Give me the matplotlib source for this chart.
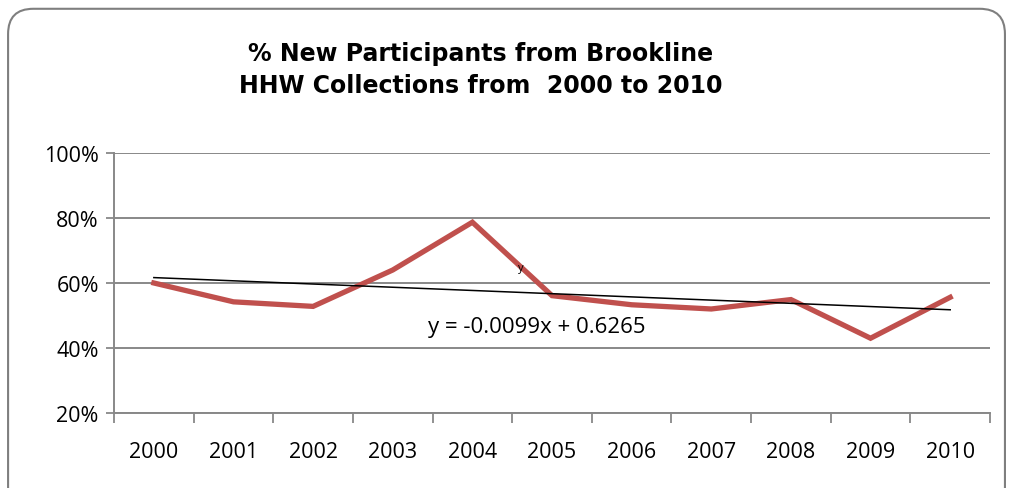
import matplotlib.pyplot as plt
from matplotlib.patches import FancyBboxPatch
import numpy as np

years = ['2000', '2001', '2002', '2003', '2004', '2005', '2006', '2007', '2008', '2009', '2010']
pct_new = [60.0, 54.2, 52.8, 64.0, 78.7, 56.1, 53.3, 52.0, 54.9, 43.0, 55.6]
# trendline as shown in the chart: y = -0.0099x + 0.6265
slope = -0.0099
intercept = 0.6265
y_ticks = [20, 40, 60, 80, 100]

fig = plt.figure(figsize=(10.1, 4.89), dpi=100)
fig.set_facecolor('white')

# rounded chart border
border = FancyBboxPatch((0.008, -0.05), 0.987, 1.03, boxstyle='round,pad=0,rounding_size=0.025',
                        transform=fig.transFigure, facecolor='none', edgecolor='#7f7f7f',
                        linewidth=1.5, mutation_aspect=2.06)
fig.patches.append(border)

ax = fig.add_axes([0.1129, 0.1534, 0.8673, 0.5317])
x = np.arange(len(years))

ax.plot(x, pct_new, color='#C0504D', linewidth=3.8, solid_joinstyle='miter')

xt = np.array([0, len(years) - 1])
ax.plot(xt, (slope * (xt + 1) + intercept) * 100, color='black', linewidth=1.1)

ax.set_xlim(-0.5, len(years) - 0.5)
ax.set_ylim(20, 100)
ax.set_yticks(y_ticks)
ax.set_yticklabels([f'{v}%' for v in y_ticks])
ax.set_xticks(x)
ax.set_xticklabels(years)
ax.set_xticks(np.arange(-0.5, len(years), 1), minor=True)
ax.tick_params(axis='x', which='major', length=0, pad=20)
ax.tick_params(axis='x', which='minor', length=7, width=1.3, color='#888888')
ax.tick_params(axis='y', length=6, width=1.3, color='#888888', pad=5)
ax.tick_params(labelsize=15.5)
for lab in ax.get_xticklabels() + ax.get_yticklabels():
    lab.set_family('Open Sans')

ax.grid(axis='y', color='#888888', linewidth=1.4)
ax.set_axisbelow(True)
for s in ['top', 'right']:
    ax.spines[s].set_visible(False)
for s in ['left', 'bottom']:
    ax.spines[s].set_color('#888888')
    ax.spines[s].set_linewidth(1.4)

ax.text(4.81, 46.6, 'y = -0.0099x + 0.6265', fontsize=16, family='Open Sans',
        ha='center', va='center')
ax.text(4.61, 64.9, 'y', fontsize=8, family='Open Sans', ha='center', va='center')

fig.text(0.476, 0.857, '% New Participants from Brookline\nHHW Collections from  2000 to 2010',
         ha='center', va='center', fontsize=17, fontweight='bold', linespacing=1.45)

fig.savefig('out.png', dpi=100)
